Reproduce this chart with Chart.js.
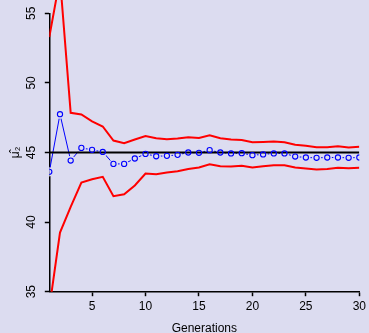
<!DOCTYPE html>
<html>
<head>
<meta charset="utf-8">
<script src="https://cdn.jsdelivr.net/npm/chart.js@4"></script>
<style>
    html, body { margin: 0; padding: 0; background: #dcdcf0; overflow: hidden; }
    canvas { display: block; }
</style>
</head>
<body>
<canvas id="chart-mu2" width="369" height="333"></canvas>
<script>
// ════════════════════════════════════════
// DATA
// ════════════════════════════════════════

const GENERATIONS = [1, 2, 3, 4, 5, 6, 7, 8, 9, 10, 11, 12, 13, 14, 15,
                     16, 17, 18, 19, 20, 21, 22, 23, 24, 25, 26, 27, 28, 29, 30];

// estimate of mu_2 per generation (blue circles)
const MU2_ESTIMATE = [43.61, 47.75, 44.42, 45.33, 45.19, 45.04, 44.18, 44.18, 44.57, 44.90,
                      44.73, 44.76, 44.83, 45.00, 44.98, 45.17, 45.00, 44.93, 44.95, 44.81,
                      44.86, 44.93, 44.93, 44.71, 44.64, 44.62, 44.64, 44.64, 44.62, 44.64];

// red envelope
const UPPER_BAND = [53.3, 57.5, 47.85, 47.73, 47.23, 46.87, 45.86, 45.67, 45.93, 46.19,
                    46.03, 45.96, 46.00, 46.10, 46.05, 46.24, 46.03, 45.93, 45.90, 45.74,
                    45.76, 45.79, 45.74, 45.55, 45.48, 45.38, 45.38, 45.45, 45.36, 45.41];
const LOWER_BAND = [33.8, 39.25, 41.10, 42.84, 43.08, 43.25, 41.86, 42.00, 42.63, 43.49,
                    43.44, 43.56, 43.66, 43.82, 43.92, 44.16, 44.02, 44.00, 44.04, 43.92,
                    44.02, 44.09, 44.09, 43.92, 43.85, 43.78, 43.82, 43.90, 43.87, 43.90];

const TRUE_VALUE = 45;
const X_TICKS = [5, 10, 15, 20, 25, 30];
const Y_MIN = 35, Y_MAX = 55, Y_STEP = 5;

const BG = '#dcdcf0';
const FONT = "'Liberation Sans', Arial, Helvetica, sans-serif";

const pts = vals => GENERATIONS.map((g, i) => ({ x: g, y: vals[i] }));
const first = GENERATIONS[0], last = GENERATIONS[GENERATIONS.length - 1];

// ════════════════════════════════════════
// CHART
// ════════════════════════════════════════

const ctx = document.getElementById('chart-mu2');

new Chart(ctx, {
    type: 'line',
    data: {
        datasets: [
            {   // red bands (on top)
                data: pts(UPPER_BAND),
                borderColor: '#ff0000', borderWidth: 2, pointRadius: 0,
                tension: 0, order: 1,
                clip: { left: 0, top: 14, right: 0, bottom: 0 },
            },
            {
                data: pts(LOWER_BAND),
                borderColor: '#ff0000', borderWidth: 2, pointRadius: 0,
                tension: 0, order: 1,
                clip: { left: 0, top: 14, right: 0, bottom: 0 },
            },
            {   // open circles
                data: pts(MU2_ESTIMATE),
                showLine: false,
                pointRadius: 2.6, pointBorderWidth: 1.1,
                pointBorderColor: '#0000ff', pointBackgroundColor: 'rgba(0,0,0,0)',
                order: 2, clip: 0,
            },
            {   // reference line
                data: [{ x: first, y: TRUE_VALUE }, { x: last, y: TRUE_VALUE }],
                borderColor: '#000000', borderWidth: 2, pointRadius: 0,
                order: 3,
            },
            {   // gaps round the circles, like R type = "b"
                data: pts(MU2_ESTIMATE),
                showLine: false,
                pointRadius: 4.6, pointBorderWidth: 0,
                pointBackgroundColor: BG,
                order: 4, clip: 0,
            },
            {   // connecting line
                data: pts(MU2_ESTIMATE),
                borderColor: '#0000ff', borderWidth: 1, pointRadius: 0,
                tension: 0, order: 5,
            },
        ]
    },
    options: {
        responsive: false,
        animation: false,
        events: [],
        layout: { padding: { top: 13.3, right: 8, left: 0, bottom: 0 } },
        plugins: { legend: { display: false }, tooltip: { enabled: false } },
        scales: {
            x: {
                type: 'linear',
                min: first, max: last,
                afterBuildTicks: axis => { axis.ticks = X_TICKS.map(v => ({ value: v })); },
                afterFit: axis => { axis.height = 41.3; },
                grid: {
                    drawOnChartArea: false, drawTicks: true,
                    tickLength: 4.5, tickColor: '#000', tickWidth: 1.5,
                },
                border: { color: '#000', width: 1.5 },
                ticks: {
                    font: { family: FONT, size: 12 },
                    color: '#000',
                    padding: 3,
                    maxRotation: 0,
                },
                title: {
                    display: true,
                    text: 'Generations',
                    font: { family: FONT, size: 12 },
                    color: '#000',
                    padding: { top: 0, bottom: -2.5 },
                },
            },
            y: {
                min: Y_MIN, max: Y_MAX,
                afterFit: axis => { axis.width = 49.3; },
                grid: {
                    drawOnChartArea: false, drawTicks: true,
                    tickLength: 4.5, tickColor: '#000', tickWidth: 1.5,
                },
                border: { color: '#000', width: 1.5 },
                ticks: {
                    stepSize: Y_STEP,
                    font: { family: FONT, size: 12 },
                    color: '#000',
                    minRotation: 90, maxRotation: 90,
                    crossAlign: 'center',
                    padding: 6,
                },
                title: {
                    display: true,
                    text: 'μ̂₂',
                    font: { family: FONT, size: 12 },
                    color: '#000',
                    padding: { top: 8, bottom: 0 },
                },
            }
        }
    }
});
</script>
</body>
</html>
